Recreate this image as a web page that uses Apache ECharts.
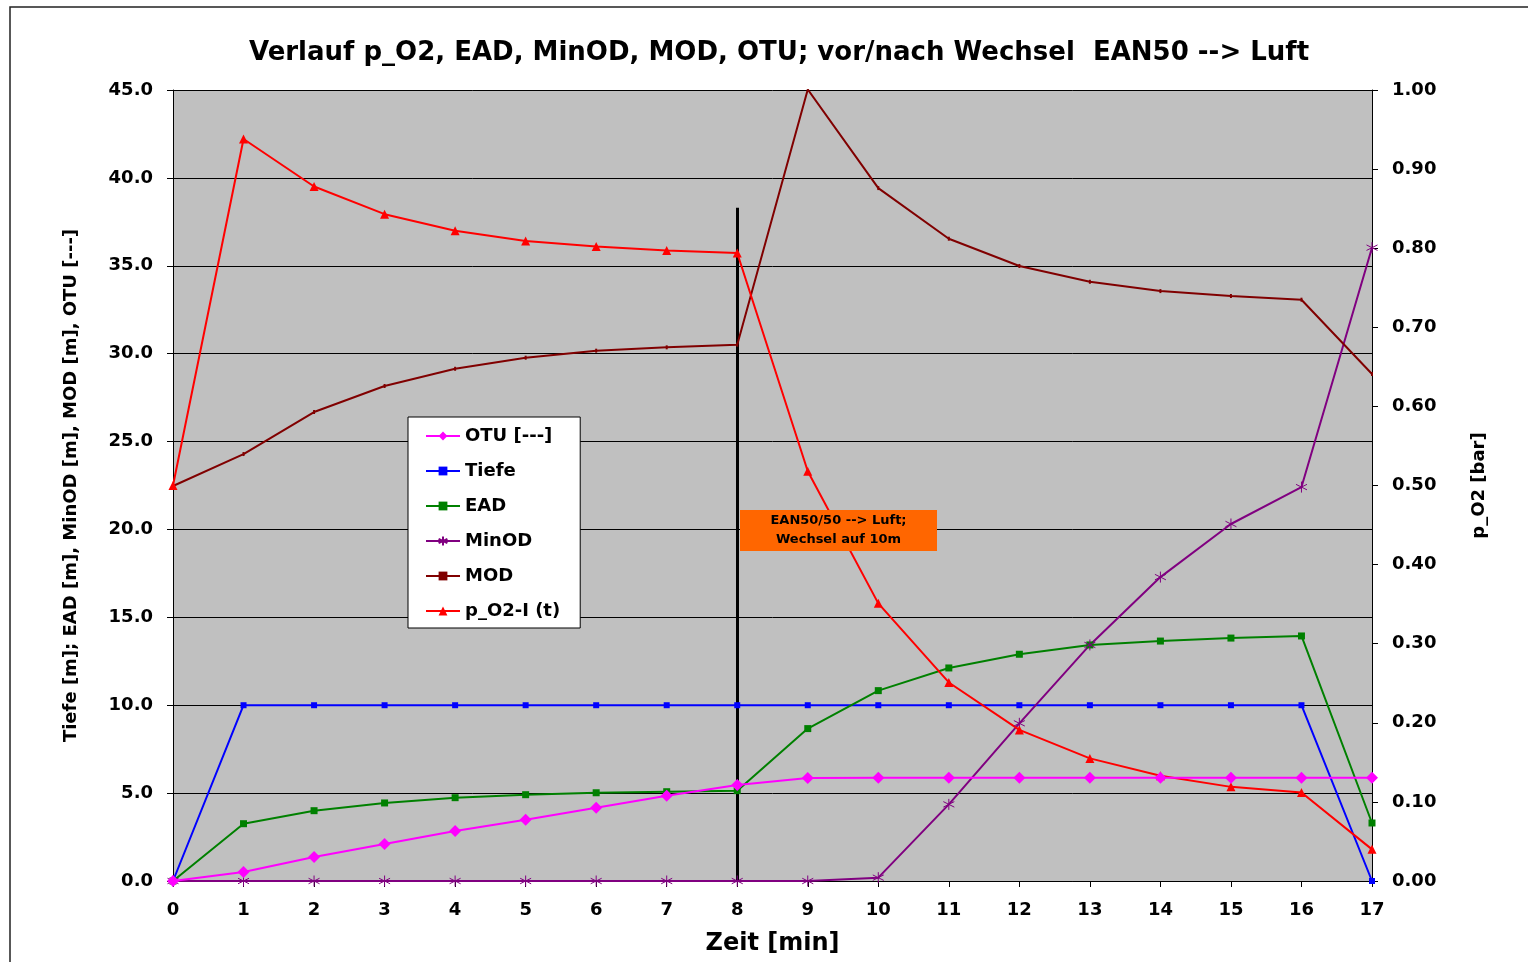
<!DOCTYPE html>
<html>
<head>
<meta charset="utf-8">
<script src="https://cdn.jsdelivr.net/npm/echarts@6/dist/echarts.min.js"></script>
<style>
html,body{margin:0;padding:0;background:#fff;overflow:hidden;}
#chart{width:1528px;height:962px;}
</style>
</head>
<body>
<div id="chart"></div>
<script>
const zeit = ['0','1','2','3','4','5','6','7','8','9','10','11','12','13','14','15','16','17'];
const otu = [0,0.51,1.37,2.10,2.84,3.49,4.17,4.85,5.46,5.86,5.88,5.88,5.88,5.88,5.88,5.88,5.88,5.88];
const tiefe = [0,10,10,10,10,10,10,10,10,10,10,10,10,10,10,10,10,0];
const ead = [0,3.26,4.00,4.44,4.74,4.91,5.02,5.08,5.14,8.67,10.83,12.12,12.90,13.43,13.65,13.82,13.94,3.30];
const minod = [0,0,0,0,0,0,0,0,0,0,0.19,4.36,8.97,13.43,17.29,20.31,22.41,36.03];
const mod = [22.47,24.29,26.68,28.16,29.14,29.77,30.17,30.36,30.51,45.03,39.42,36.54,34.99,34.09,33.56,33.28,33.07,28.84];
const po2 = [0.500,0.938,0.878,0.843,0.822,0.809,0.802,0.797,0.794,0.518,0.351,0.251,0.191,0.155,0.133,0.119,0.112,0.040];
const wechselZeit = 8;
const wechselTop = 38.3;
const notiz = 'EAN50/50 --> Luft;\nWechsel auf 10m';

const F = '"DejaVu Sans", Verdana, sans-serif';
const asterisk = 'path://M5,0 L5,10 M0,2.5 L10,7.5 M0,7.5 L10,2.5';

const chart = echarts.init(document.getElementById('chart'));
chart.setOption({
  animation: false,
  backgroundColor: '#fff',
  textStyle: {fontFamily: F},
  title: {
    text: 'Verlauf p_O2, EAD, MinOD, MOD, OTU; vor/nach Wechsel  EAN50 --> Luft',
    left: 774, textAlign: 'center', top: 35,
    textStyle: {fontFamily: F, fontSize: 26, fontWeight: 'bold', color: '#000'}
  },
  grid: {left: 173, width: 1199, top: 90, height: 791, show: true, backgroundColor: '#C0C0C0', borderWidth: 0},
  legend: {
    orient: 'vertical', left: 408, top: 417,
    padding: [10, 20, 8, 17], itemGap: 17, itemWidth: 34, itemHeight: 11,
    backgroundColor: '#fff', borderColor: '#000', borderWidth: 1,
    textStyle: {fontFamily: F, fontSize: 18, fontWeight: 'bold', color: '#000'},
    data: ['OTU [---]', 'Tiefe', 'EAD', 'MinOD', 'MOD', 'p_O2-I (t)']
  },
  xAxis: {
    type: 'category', data: zeit, boundaryGap: false,
    name: 'Zeit [min]', nameLocation: 'middle', nameGap: 51,
    nameTextStyle: {fontFamily: F, fontSize: 24, fontWeight: 'bold', color: '#000'},
    axisLine: {lineStyle: {color: '#000', width: 1}},
    axisTick: {show: true, length: 6, lineStyle: {color: '#000'}, alignWithLabel: true},
    axisLabel: {fontFamily: F, fontSize: 18, fontWeight: 'bold', color: '#000', margin: 20},
    splitLine: {show: false}
  },
  yAxis: [{
    type: 'value', min: 0, max: 45, interval: 5,
    name: 'Tiefe [m]; EAD [m], MinOD [m], MOD [m], OTU [---]',
    nameLocation: 'middle', nameGap: 93, nameRotate: 90,
    nameTextStyle: {fontFamily: F, fontSize: 18, fontWeight: 'bold', color: '#000'},
    axisLine: {show: true, lineStyle: {color: '#000', width: 1}},
    axisTick: {show: true, length: 6, lineStyle: {color: '#000'}},
    axisLabel: {fontFamily: F, fontSize: 18, fontWeight: 'bold', color: '#000', margin: 20,
      formatter: v => v.toFixed(1)},
    splitLine: {show: true, lineStyle: {color: '#000', width: 1}}
  }, {
    type: 'value', min: 0, max: 1, interval: 0.1, position: 'right',
    name: 'p_O2 [bar]', nameLocation: 'middle', nameGap: 98, nameRotate: 90,
    nameTextStyle: {fontFamily: F, fontSize: 18, fontWeight: 'bold', color: '#000'},
    axisLine: {show: true, lineStyle: {color: '#000', width: 1}},
    axisTick: {show: true, length: 6, lineStyle: {color: '#000'}},
    axisLabel: {fontFamily: F, fontSize: 18, fontWeight: 'bold', color: '#000', margin: 20,
      formatter: v => v.toFixed(2)},
    splitLine: {show: false}
  }],
  graphic: [
    {type: 'rect', shape: {x: 10, y: 7, width: 1600, height: 1100}, style: {fill: 'none', stroke: '#222', lineWidth: 1.5}, z: 100, silent: true},
    {type: 'rect', shape: {x: 740, y: 510, width: 197, height: 41}, style: {fill: '#FF6600'}, z: 100},
    {type: 'text', x: 838.5, y: 530.5, z: 101,
      style: {text: notiz, fill: '#000', font: 'bold 13px ' + F, align: 'center', verticalAlign: 'middle', lineHeight: 19}}
  ],
  series: [
    {name: 'OTU [---]', type: 'line', data: otu, yAxisIndex: 0,
      symbol: 'diamond', symbolSize: 12, showAllSymbol: true,
      lineStyle: {color: '#FF00FF', width: 2}, itemStyle: {color: '#FF00FF'}, z: 6},
    {name: 'Tiefe', type: 'line', data: tiefe, yAxisIndex: 0,
      symbol: 'rect', symbolSize: 6, showAllSymbol: true,
      lineStyle: {color: '#0000FF', width: 2}, itemStyle: {color: '#0000FF'}, z: 5,
      markLine: {silent: true, symbol: 'none', label: {show: false},
        lineStyle: {color: '#000', width: 3, type: 'solid'},
        data: [[{coord: [wechselZeit, wechselTop]}, {coord: [wechselZeit, 0]}]]}},
    {name: 'EAD', type: 'line', data: ead, yAxisIndex: 0,
      symbol: 'rect', symbolSize: 7, showAllSymbol: true,
      lineStyle: {color: '#008000', width: 2}, itemStyle: {color: '#008000'}, z: 5},
    {name: 'MinOD', type: 'line', data: minod, yAxisIndex: 0,
      symbol: asterisk, symbolSize: 11, showAllSymbol: true,
      lineStyle: {color: '#800080', width: 2},
      itemStyle: {color: '#800080', borderColor: '#800080', borderWidth: 1}, z: 5},
    {name: 'MOD', type: 'line', data: mod, yAxisIndex: 0,
      symbol: 'rect', symbolSize: [2, 4], showAllSymbol: true,
      lineStyle: {color: '#800000', width: 2}, itemStyle: {color: '#800000'}, z: 5},
    {name: 'p_O2-I (t)', type: 'line', data: po2, yAxisIndex: 1,
      symbol: 'triangle', symbolSize: 9, showAllSymbol: true,
      lineStyle: {color: '#FF0000', width: 2}, itemStyle: {color: '#FF0000'}, z: 5}
  ]
});
</script>
</body>
</html>
